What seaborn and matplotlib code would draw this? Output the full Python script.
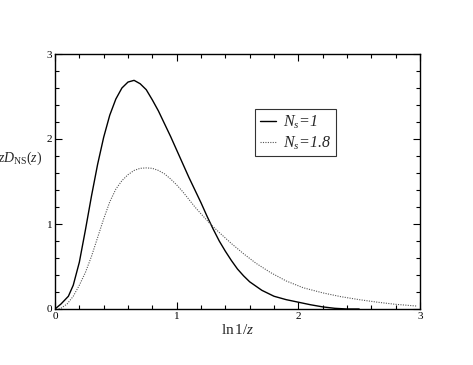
import numpy as np
import pandas as pd
import seaborn as sns
import matplotlib.pyplot as plt
from matplotlib.ticker import MultipleLocator

# values
x_ns1 = [0, 0.05, 0.11, 0.15, 0.20, 0.25, 0.30, 0.35, 0.40, 0.45, 0.50, 0.55, 0.60,
         0.65, 0.70, 0.75, 0.80, 0.85, 0.90, 0.95, 1.00, 1.05, 1.10, 1.15, 1.20, 1.25,
         1.30, 1.35, 1.40, 1.45, 1.50, 1.55, 1.60, 1.70, 1.80, 1.90, 2.00, 2.10, 2.20,
         2.30, 2.40, 2.50]
y_ns1 = [0, 0.06, 0.15, 0.28, 0.55, 0.93, 1.33, 1.70, 2.02, 2.28, 2.47, 2.60, 2.67,
         2.69, 2.65, 2.58, 2.46, 2.33, 2.18, 2.03, 1.87, 1.71, 1.55, 1.40, 1.25, 1.09,
         0.94, 0.80, 0.68, 0.57, 0.47, 0.39, 0.32, 0.22, 0.15, 0.11, 0.08, 0.05, 0.025,
         0.008, 0.0, 0.0]

x_ns18 = [0.03, 0.05, 0.10, 0.15, 0.20, 0.25, 0.30, 0.35, 0.40, 0.45, 0.50, 0.55, 0.60,
          0.65, 0.70, 0.75, 0.80, 0.85, 0.90, 0.95, 1.00, 1.05, 1.10, 1.15, 1.20, 1.27,
          1.35, 1.45, 1.55, 1.65, 1.77, 1.90, 2.04, 2.20, 2.35, 2.50, 2.65, 2.80, 2.97]
y_ns18 = [0.0, 0.01, 0.06, 0.15, 0.28, 0.43, 0.62, 0.84, 1.06, 1.26, 1.41, 1.51, 1.58,
          1.63, 1.655, 1.66, 1.655, 1.63, 1.59, 1.53, 1.46, 1.38, 1.29, 1.20, 1.12, 1.01,
          0.90, 0.77, 0.65, 0.54, 0.43, 0.33, 0.25, 0.19, 0.145, 0.11, 0.08, 0.055, 0.035]

sns.set_style("ticks")
plt.rcParams["font.family"] = ["Liberation Serif", "DejaVu Serif"]
plt.rcParams["mathtext.fontset"] = "custom"
plt.rcParams["mathtext.rm"] = "Liberation Serif"
plt.rcParams["mathtext.it"] = "Liberation Serif:italic"

fig = plt.figure(figsize=(4.73, 3.65), dpi=100)
ax = fig.add_axes([55 / 473, 1 - 309 / 365, 365 / 473, 255 / 365])

d1 = pd.DataFrame({"x": x_ns1, "y": y_ns1})
d2 = pd.DataFrame({"x": x_ns18, "y": y_ns18})
sns.lineplot(data=d1, x="x", y="y", ax=ax, color="black", lw=1.0,
             label=r"$\mathit{N_s}$=1", sort=False)
sns.lineplot(data=d2, x="x", y="y", ax=ax, color="#555555", lw=0.8,
             linestyle=(0, (1, 1.2)), label=r"$\mathit{N_s}$=1.8", sort=False)

ax.set_xlim(0, 3)
ax.set_ylim(0, 3)
ax.xaxis.set_major_locator(MultipleLocator(1))
ax.xaxis.set_minor_locator(MultipleLocator(0.2))
ax.yaxis.set_major_locator(MultipleLocator(1))
ax.yaxis.set_minor_locator(MultipleLocator(0.2))
ax.tick_params(which="both", direction="in", top=True, right=True, labelsize=8,
               width=0.8, colors="black", pad=2)
ax.tick_params(which="major", length=5)
ax.tick_params(which="minor", length=3)
for s in ax.spines.values():
    s.set_visible(True)
    s.set_linewidth(1.0)
    s.set_color("black")

ax.set_xlabel(r"ln$\,$" + r"$\mathit{1/z}$", fontsize=11)
ax.xaxis.set_label_coords(0.5, -0.055)
ax.set_ylabel(r"$zD_{\mathrm{NS}}(z)$", fontsize=10, rotation=0, ha="right", va="center")
ax.yaxis.set_label_coords(-0.035, 0.59)

leg = ax.legend(loc="upper left", bbox_to_anchor=(0.548, 0.785), frameon=True,
                fancybox=False, handlelength=1.0, handletextpad=0.45, borderpad=0.3,
                labelspacing=0.2, fontsize=11.5, borderaxespad=0)
leg.get_frame().set_edgecolor("black")
leg.get_frame().set_linewidth(0.8)
for t in leg.get_texts():
    t.set_fontstyle("italic")

fig.savefig("out.png", dpi=100)
